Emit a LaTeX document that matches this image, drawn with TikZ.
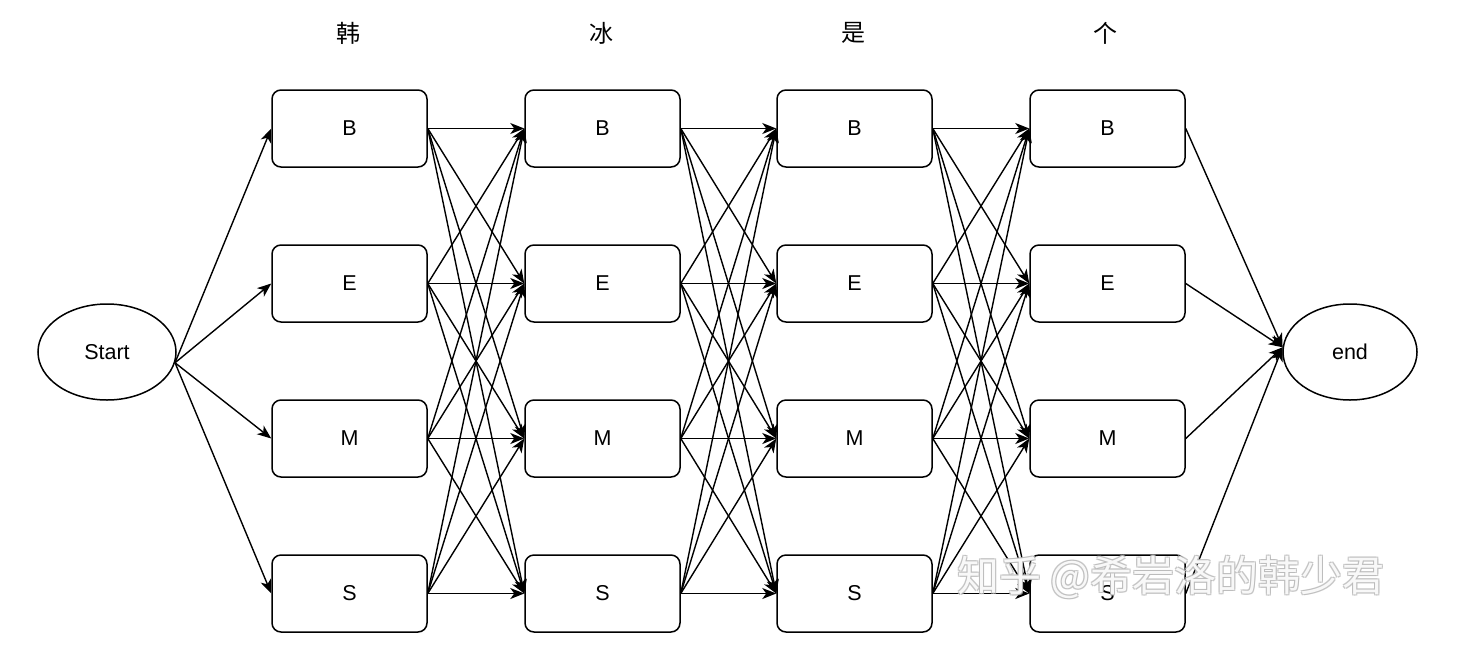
\documentclass[tikz,border=0pt]{standalone}
\usepackage{fontspec}
\setmainfont{Liberation Sans}
\newfontfamily\cjk{Noto Sans CJK SC}
\usetikzlibrary{arrows.meta,shapes.geometric}
\begin{document}
\begin{tikzpicture}[x=1pt,y=-1pt,
  state/.style={draw, rounded corners=9pt, line width=1.5pt,
    minimum width=155pt, minimum height=77pt, inner sep=0pt,
    fill=white, font=\fontsize{21.5}{25}\selectfont},
  term/.style={draw, ellipse, line width=1.5pt, inner sep=0pt,
    minimum width=138pt, minimum height=96pt, font=\fontsize{21.5}{25}\selectfont},
  arr/.style={line width=1.4pt, -{Stealth[length=14pt,width=11pt,inset=4pt]}},
  head/.style={font=\cjk\fontsize{24}{28}\selectfont},
  wmark/.style={font=\cjk\fontsize{42}{46}\selectfont, inner sep=0pt, anchor=west}
]
\useasboundingbox (0,0) rectangle (1480,670);

% column headers
\node[head] (h1) at (348,33) {韩};
\node[head] (h2) at (601,33) {冰};
\node[head] (h3) at (853,33) {是};
\node[head] (h4) at (1105,33) {个};

% start and end states
\node[term] (start) at (107,352) {Start};
\node[term, minimum width=134pt] (end) at (1350,352) {end};

% tag lattice: one column per character
\foreach \c/\x in {1/349.5, 2/602.5, 3/854.5, 4/1107.5}
  \foreach \r/\y/\t in {1/128.5/B, 2/283.5/E, 3/438.5/M, 4/593.5/S}
    \node[state] (b\c\r) at (\x,\y) {\t};

% transitions from the start state
\foreach \r in {1,...,4}
  \draw[arr] (start.-9) -- (b1\r.west);

% full transitions between neighbouring columns
\foreach \c [evaluate=\c as \n using int(\c+1)] in {1,2,3}
  \foreach \i in {1,...,4}
    \foreach \j in {1,...,4}
      \draw[arr] (b\c\i.east) -- (b\n\j.west);

% transitions into the end state
\foreach \r in {1,...,4}
  \draw[arr] (b4\r.east) -- (end.176);

% embossed watermark: grey outline copies under a white face
\foreach \dx/\dy [count=\k] in {1.3/1.3, -1.1/-1.1, 1.3/-1.1, -1.1/1.3}
  \node[wmark, text=gray!55, opacity=0.8] (wmshade\k) at (957+\dx,577+\dy) {知乎 @希岩洛的韩少君};
\node[wmark, text=white, opacity=0.9] (wm) at (957,577) {知乎 @希岩洛的韩少君};
\end{tikzpicture}
\end{document}
